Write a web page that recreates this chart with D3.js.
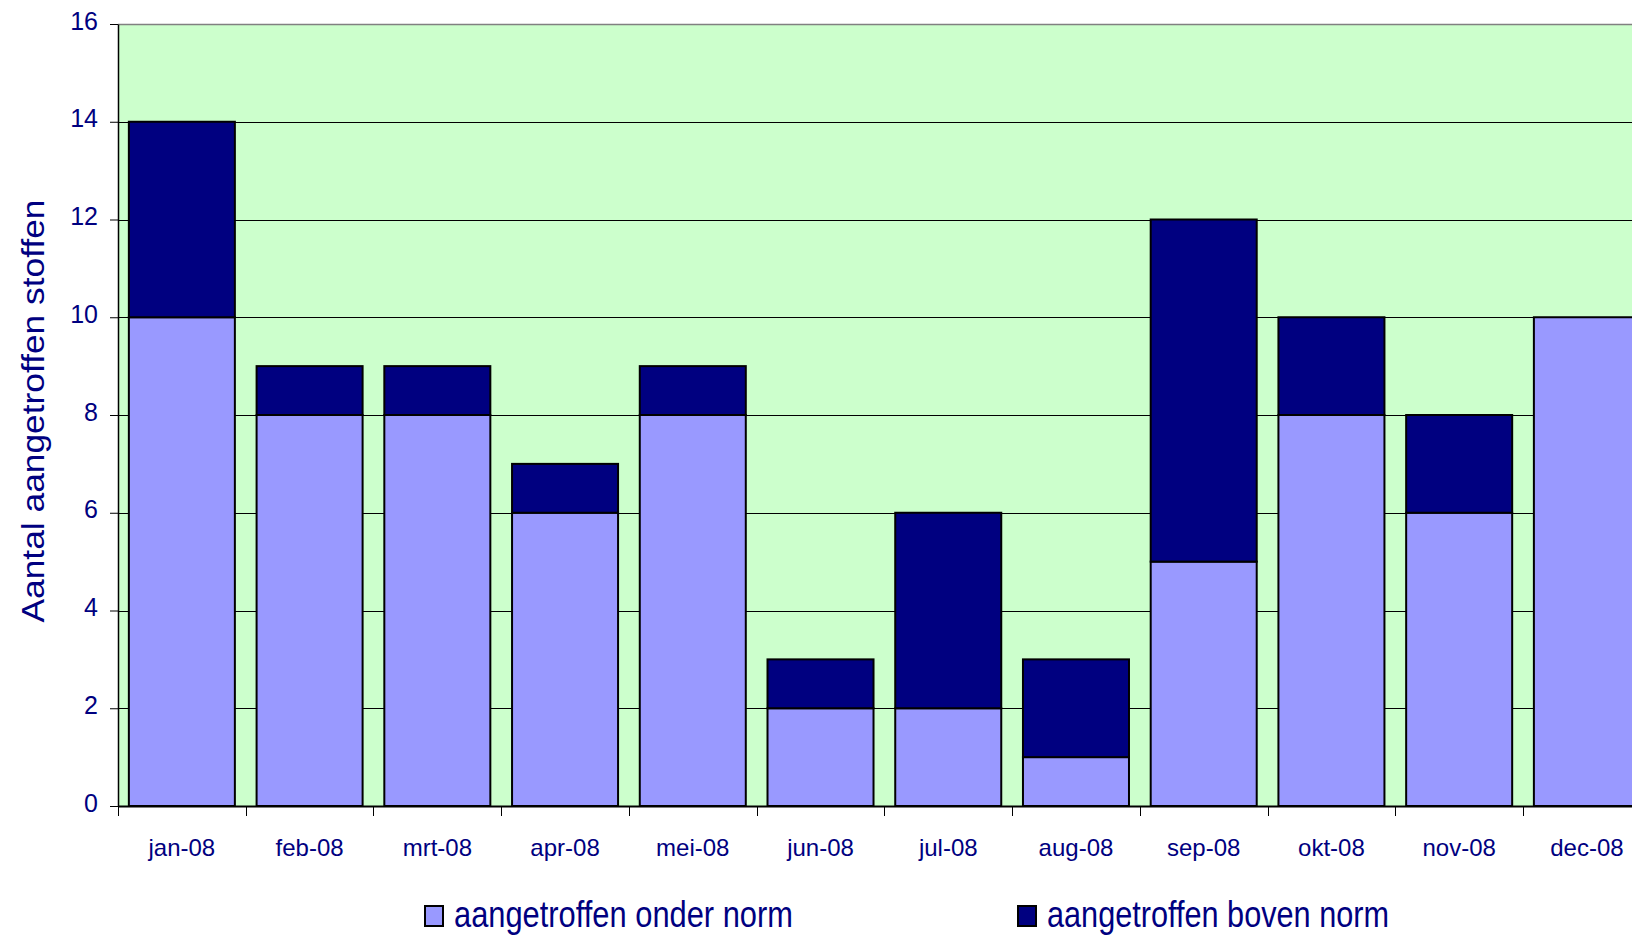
<!DOCTYPE html>
<html lang="nl">
<head>
<meta charset="utf-8">
<title>aangetroffen stoffen 2008</title>
<script src="https://d3js.org/d3.v7.min.js"></script>
<style>
  body { margin: 0; background: #ffffff; font-family: "Liberation Sans", Arial, sans-serif; }
  svg { display: block; }
</style>
</head>
<body>
<div id="chart"></div>
<script>
// data
var months = ["jan-08","feb-08","mrt-08","apr-08","mei-08","jun-08","jul-08","aug-08","sep-08","okt-08","nov-08","dec-08"]
var onderNorm = [10, 8, 8, 6, 8, 2, 2, 1, 5, 8, 6, 10]
var bovenNorm = [4, 1, 1, 1, 1, 1, 4, 2, 7, 2, 2, 0]
var yTicks = [0, 2, 4, 6, 8, 10, 12, 14, 16]
var seriesNames = ["aangetroffen onder norm", "aangetroffen boven norm"]
var seriesColors = ["#9999ff", "#000080"]

drawChart()

function drawChart(){
  var W = 1632, H = 936
  var plotLeft = 118, plotTop = 24, zeroY = 806
  var step = 127.73
  var textColor = "#000080"

  var svg = d3.select("#chart").append("svg")
    .attr("width", W)
    .attr("height", H)

  var x = d3.scaleBand().domain(months).range([plotLeft, plotLeft + step * months.length]).padding(0)
  var y = d3.scaleLinear().domain([0, 16]).range([zeroY, plotTop])
  var barW = x.bandwidth() * 0.83

  // plot background
  svg.append("rect")
    .attr("x", plotLeft).attr("y", plotTop)
    .attr("width", W - plotLeft).attr("height", zeroY - plotTop)
    .attr("fill", "#ccffcc")

  // gridlines
  svg.selectAll("line.grid")
    .data(yTicks.filter(function(d){ return d > 0 && d < 16 }))
    .enter().append("line")
    .attr("class", "grid")
    .attr("x1", plotLeft).attr("x2", W)
    .attr("y1", function(d){ return Math.round(y(d)) + 0.5 })
    .attr("y2", function(d){ return Math.round(y(d)) + 0.5 })
    .attr("stroke", "#000").attr("stroke-width", 1)

  // top border (gray)
  svg.append("line")
    .attr("x1", plotLeft).attr("x2", W)
    .attr("y1", plotTop + 0.5).attr("y2", plotTop + 0.5)
    .attr("stroke", "#808080").attr("stroke-width", 1.5)

  // stacked data
  var stackData = months.map(function(m, i){ return { month: m, onder: onderNorm[i], boven: bovenNorm[i] } })
  var stack = d3.stack().keys(["onder", "boven"])(stackData)

  svg.selectAll("g.series")
    .data(stack)
    .enter().append("g")
    .attr("class", "series")
    .attr("fill", function(d, i){ return seriesColors[i] })
    .selectAll("rect")
    .data(function(d){ return d.filter(function(p){ return p[1] - p[0] > 0 }) })
    .enter().append("rect")
    .attr("x", function(d){ return x(d.data.month) + (x.bandwidth() - barW) / 2 })
    .attr("y", function(d){ return y(d[1]) })
    .attr("width", barW)
    .attr("height", function(d){ return y(d[0]) - y(d[1]) })
    .attr("stroke", "#000")
    .attr("stroke-width", 2)

  // y axis
  var yAxis = svg.append("g")
    .attr("transform", "translate(" + plotLeft + ",0)")
    .call(d3.axisLeft(y).tickValues(yTicks).tickSize(8).tickSizeOuter(0).tickPadding(12))
  yAxis.select(".domain").attr("stroke", "#000").attr("stroke-width", 1.5)
  yAxis.selectAll(".tick line").attr("stroke", "#000")
  yAxis.selectAll(".tick text")
    .attr("fill", textColor)
    .attr("font-family", "Liberation Sans, Arial, sans-serif")
    .attr("font-size", "25px")
    .attr("dy", "0.2em")

  // x axis
  var xAxis = svg.append("g")
    .attr("transform", "translate(0," + zeroY + ")")
  xAxis.append("line")
    .attr("x1", plotLeft).attr("x2", W)
    .attr("y1", 0.5).attr("y2", 0.5)
    .attr("stroke", "#000").attr("stroke-width", 2)
  xAxis.selectAll("line.xt")
    .data(months)
    .enter().append("line")
    .attr("class", "xt")
    .attr("x1", function(d){ return Math.round(x(d)) + 0.5 })
    .attr("x2", function(d){ return Math.round(x(d)) + 0.5 })
    .attr("y1", 0).attr("y2", 10)
    .attr("stroke", "#000")
  xAxis.selectAll("text")
    .data(months)
    .enter().append("text")
    .attr("x", function(d){ return x(d) + x.bandwidth() / 2 })
    .attr("y", 50)
    .attr("text-anchor", "middle")
    .attr("fill", textColor)
    .attr("font-size", "24px")
    .text(function(d){ return d })

  // y axis title
  svg.append("text")
    .attr("transform", "translate(44,411) rotate(-90)")
    .attr("text-anchor", "middle")
    .attr("fill", textColor)
    .attr("font-size", "31px")
    .attr("textLength", 423)
    .attr("lengthAdjust", "spacingAndGlyphs")
    .text("Aantal aangetroffen stoffen")

  // legend
  var legendX = [425, 1018]
  var legend = svg.selectAll("g.legend")
    .data(seriesNames)
    .enter().append("g")
    .attr("class", "legend")
    .attr("transform", function(d, i){ return "translate(" + legendX[i] + ",906)" })
  legend.append("rect")
    .attr("x", 0).attr("y", 0)
    .attr("width", 18).attr("height", 20)
    .attr("fill", function(d, i){ return seriesColors[i] })
    .attr("stroke", "#000").attr("stroke-width", 2)
  legend.append("text")
    .attr("x", 29).attr("y", 21)
    .attr("fill", textColor)
    .attr("font-size", "36px")
    .attr("textLength", function(d, i){ return i == 0 ? 339 : 342 })
    .attr("lengthAdjust", "spacingAndGlyphs")
    .text(function(d){ return d })
}
</script>
</body>
</html>
